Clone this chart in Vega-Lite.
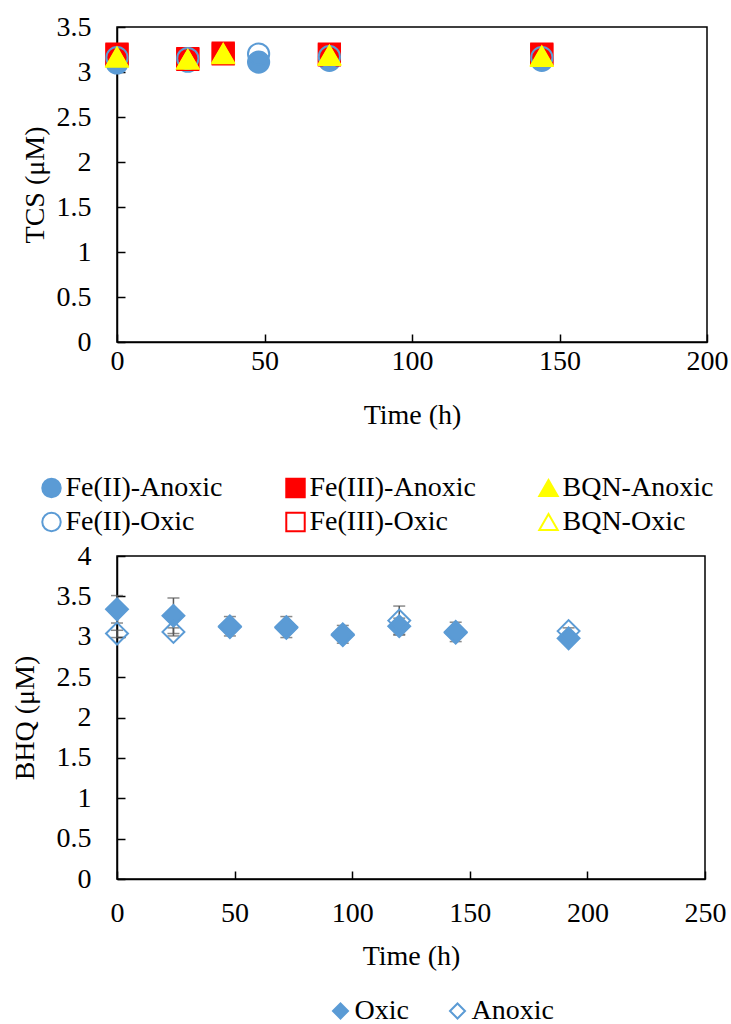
{
  "$schema": "https://vega.github.io/schema/vega-lite/v6.json",
  "background": "white",
  "padding": {"left": 10, "top": 12, "right": 0, "bottom": 0},
  "config": {
    "font": "Liberation Serif",
    "view": {"stroke": "black", "strokeWidth": 1.5},
    "axis": {"grid": false, "labelFlush": false, "domainColor": "black", "domainWidth": 1.5, "tickColor": "black", "tickWidth": 1.5, "tickSize": -8, "labelFont": "Liberation Serif", "labelFontSize": 28, "labelColor": "black", "titleFont": "Liberation Serif", "titleFontSize": 28, "titleFontWeight": "normal", "titleColor": "black"},
    "legend": {"labelFont": "Liberation Serif", "labelFontSize": 28, "labelColor": "black", "labelLimit": 400}
  },
  "bounds": "flush",
  "spacing": 214,
  "resolve": {"scale": {"shape": "independent", "fill": "independent", "stroke": "independent"}, "legend": {"shape": "independent", "fill": "independent", "stroke": "independent"}},
  "vconcat": [
    {
      "width": 590,
      "height": 315,
      "data": {"values": [
        {"time": 0, "series": "Fe(II)-Anoxic", "tcs": 3.10},
        {"time": 24, "series": "Fe(II)-Anoxic", "tcs": 3.12},
        {"time": 48, "series": "Fe(II)-Anoxic", "tcs": 3.11},
        {"time": 72, "series": "Fe(II)-Anoxic", "tcs": 3.13},
        {"time": 144, "series": "Fe(II)-Anoxic", "tcs": 3.13},
        {"time": 0, "series": "Fe(III)-Anoxic", "tcs": 3.19},
        {"time": 24, "series": "Fe(III)-Anoxic", "tcs": 3.14},
        {"time": 36, "series": "Fe(III)-Anoxic", "tcs": 3.20},
        {"time": 72, "series": "Fe(III)-Anoxic", "tcs": 3.19},
        {"time": 144, "series": "Fe(III)-Anoxic", "tcs": 3.19},
        {"time": 0, "series": "Fe(III)-Oxic", "tcs": 3.20},
        {"time": 24, "series": "Fe(III)-Oxic", "tcs": 3.15},
        {"time": 36, "series": "Fe(III)-Oxic", "tcs": 3.21},
        {"time": 72, "series": "Fe(III)-Oxic", "tcs": 3.20},
        {"time": 144, "series": "Fe(III)-Oxic", "tcs": 3.20},
        {"time": 0, "series": "Fe(II)-Oxic", "tcs": 3.16},
        {"time": 24, "series": "Fe(II)-Oxic", "tcs": 3.15},
        {"time": 48, "series": "Fe(II)-Oxic", "tcs": 3.20},
        {"time": 72, "series": "Fe(II)-Oxic", "tcs": 3.17},
        {"time": 144, "series": "Fe(II)-Oxic", "tcs": 3.16},
        {"time": 0, "series": "BQN-Anoxic", "tcs": 3.17},
        {"time": 24, "series": "BQN-Anoxic", "tcs": 3.14},
        {"time": 36, "series": "BQN-Anoxic", "tcs": 3.21},
        {"time": 72, "series": "BQN-Anoxic", "tcs": 3.19},
        {"time": 144, "series": "BQN-Anoxic", "tcs": 3.18},
        {"time": 0, "series": "BQN-Oxic", "tcs": 3.16},
        {"time": 24, "series": "BQN-Oxic", "tcs": 3.14},
        {"time": 36, "series": "BQN-Oxic", "tcs": 3.20},
        {"time": 72, "series": "BQN-Oxic", "tcs": 3.18},
        {"time": 144, "series": "BQN-Oxic", "tcs": 3.17}
      ]},
      "mark": {"type": "point", "filled": false, "strokeWidth": 2, "opacity": 1, "size": 450},
      "encoding": {
        "x": {"field": "time", "type": "quantitative", "scale": {"domain": [0, 200]}, "axis": {"values": [0, 50, 100, 150, 200], "title": "Time (h)", "labelPadding": 13, "titlePadding": 26}},
        "y": {"field": "tcs", "type": "quantitative", "scale": {"domain": [0, 3.5]}, "axis": {"values": [0, 0.5, 1, 1.5, 2, 2.5, 3, 3.5], "format": "~g", "title": "TCS (μM)", "labelPadding": 34, "titlePadding": 7}},
        "shape": {"field": "series", "type": "nominal",
          "scale": {"domain": ["Fe(II)-Anoxic", "Fe(III)-Anoxic", "BQN-Anoxic", "Fe(II)-Oxic", "Fe(III)-Oxic", "BQN-Oxic"], "range": ["circle", "square", "triangle-up", "circle", "square", "triangle-up"]},
          "legend": {"title": null, "orient": "none", "direction": "horizontal", "legendX": -79.5, "legendY": 447, "columns": 3, "columnPadding": 58, "rowPadding": 6, "symbolSize": 340, "symbolStrokeWidth": 2, "labelOffset": 0, "padding": 0}},
        "fill": {"field": "series", "type": "nominal",
          "scale": {"domain": ["Fe(II)-Anoxic", "Fe(III)-Anoxic", "BQN-Anoxic", "Fe(II)-Oxic", "Fe(III)-Oxic", "BQN-Oxic"], "range": ["#5B9BD5", "#FF0000", "#FFFF00", "transparent", "transparent", "transparent"]},
          "legend": {"title": null, "orient": "none", "direction": "horizontal", "legendX": -79.5, "legendY": 447, "columns": 3, "columnPadding": 58, "rowPadding": 6, "symbolSize": 340, "symbolStrokeWidth": 2, "labelOffset": 0, "padding": 0}},
        "stroke": {"field": "series", "type": "nominal",
          "scale": {"domain": ["Fe(II)-Anoxic", "Fe(III)-Anoxic", "BQN-Anoxic", "Fe(II)-Oxic", "Fe(III)-Oxic", "BQN-Oxic"], "range": ["#5B9BD5", "#FF0000", "#FFFF00", "#5B9BD5", "#FF0000", "#FFFF00"]},
          "legend": {"title": null, "orient": "none", "direction": "horizontal", "legendX": -79.5, "legendY": 447, "columns": 3, "columnPadding": 58, "rowPadding": 6, "symbolSize": 340, "symbolStrokeWidth": 2, "labelOffset": 0, "padding": 0}}
      }
    },
    {
      "width": 588,
      "height": 323,
      "data": {"values": [
        {"time": 0, "cond": "Oxic", "bhq": 3.34, "lo": 3.17, "hi": 3.51},
        {"time": 24, "cond": "Oxic", "bhq": 3.26, "lo": 3.04, "hi": 3.48},
        {"time": 48, "cond": "Oxic", "bhq": 3.13, "lo": 3.01, "hi": 3.25},
        {"time": 72, "cond": "Oxic", "bhq": 3.12, "lo": 2.99, "hi": 3.25},
        {"time": 96, "cond": "Oxic", "bhq": 3.03, "lo": 2.92, "hi": 3.14},
        {"time": 120, "cond": "Oxic", "bhq": 3.13, "lo": 3.03, "hi": 3.23},
        {"time": 144, "cond": "Oxic", "bhq": 3.06, "lo": 2.94, "hi": 3.18},
        {"time": 192, "cond": "Oxic", "bhq": 2.98, "lo": 2.95, "hi": 3.01},
        {"time": 0, "cond": "Anoxic", "bhq": 3.04, "lo": 2.99, "hi": 3.08},
        {"time": 24, "cond": "Anoxic", "bhq": 3.06, "lo": 3.01, "hi": 3.11},
        {"time": 48, "cond": "Anoxic", "bhq": 3.12, "lo": 3.09, "hi": 3.15},
        {"time": 72, "cond": "Anoxic", "bhq": 3.11, "lo": 3.07, "hi": 3.15},
        {"time": 96, "cond": "Anoxic", "bhq": 3.02, "lo": 2.98, "hi": 3.06},
        {"time": 120, "cond": "Anoxic", "bhq": 3.20, "lo": 3.02, "hi": 3.38},
        {"time": 144, "cond": "Anoxic", "bhq": 3.05, "lo": 3.02, "hi": 3.08},
        {"time": 192, "cond": "Anoxic", "bhq": 3.07, "lo": 3.03, "hi": 3.11}
      ]},
      "layer": [
        {
          "mark": {"type": "errorbar", "ticks": true, "color": "#595959", "thickness": 1.5, "size": 12},
          "encoding": {
            "x": {"field": "time", "type": "quantitative", "scale": {"domain": [0, 250]}, "axis": {"values": [0, 50, 100, 150, 200, 250], "title": "Time (h)", "labelPadding": 28, "titlePadding": 15}},
            "y": {"field": "lo", "type": "quantitative", "scale": {"domain": [0, 4]}, "axis": {"values": [0, 0.5, 1, 1.5, 2, 2.5, 3, 3.5, 4], "format": "~g", "title": "BHQ (μM)", "labelPadding": 34, "titlePadding": 17}},
            "y2": {"field": "hi"}
          }
        },
        {
          "mark": {"type": "point", "filled": false, "strokeWidth": 2, "opacity": 1, "size": 480},
          "encoding": {
            "x": {"field": "time", "type": "quantitative", "scale": {"domain": [0, 250]}, "axis": {"values": [0, 50, 100, 150, 200, 250], "title": "Time (h)", "labelPadding": 28, "titlePadding": 15}},
            "y": {"field": "bhq", "type": "quantitative", "scale": {"domain": [0, 4]}, "axis": {"values": [0, 0.5, 1, 1.5, 2, 2.5, 3, 3.5, 4], "format": "~g", "title": "BHQ (μM)", "labelPadding": 34, "titlePadding": 17}},
            "shape": {"field": "cond", "type": "nominal", "scale": {"domain": ["Oxic", "Anoxic"], "range": ["diamond", "diamond"]},
              "legend": {"title": null, "orient": "none", "legendX": 209.5, "legendY": 441, "direction": "horizontal", "symbolSize": 225, "symbolStrokeWidth": 2, "columnPadding": 34, "labelOffset": 0, "padding": 0}},
            "fill": {"field": "cond", "type": "nominal", "scale": {"domain": ["Oxic", "Anoxic"], "range": ["#5B9BD5", "transparent"]},
              "legend": {"title": null, "orient": "none", "legendX": 209.5, "legendY": 441, "direction": "horizontal", "symbolSize": 225, "symbolStrokeWidth": 2, "columnPadding": 34, "labelOffset": 0, "padding": 0}},
            "stroke": {"field": "cond", "type": "nominal", "scale": {"domain": ["Oxic", "Anoxic"], "range": ["#5B9BD5", "#5B9BD5"]},
              "legend": {"title": null, "orient": "none", "legendX": 209.5, "legendY": 441, "direction": "horizontal", "symbolSize": 225, "symbolStrokeWidth": 2, "columnPadding": 34, "labelOffset": 0, "padding": 0}}
          }
        }
      ]
    }
  ]
}
